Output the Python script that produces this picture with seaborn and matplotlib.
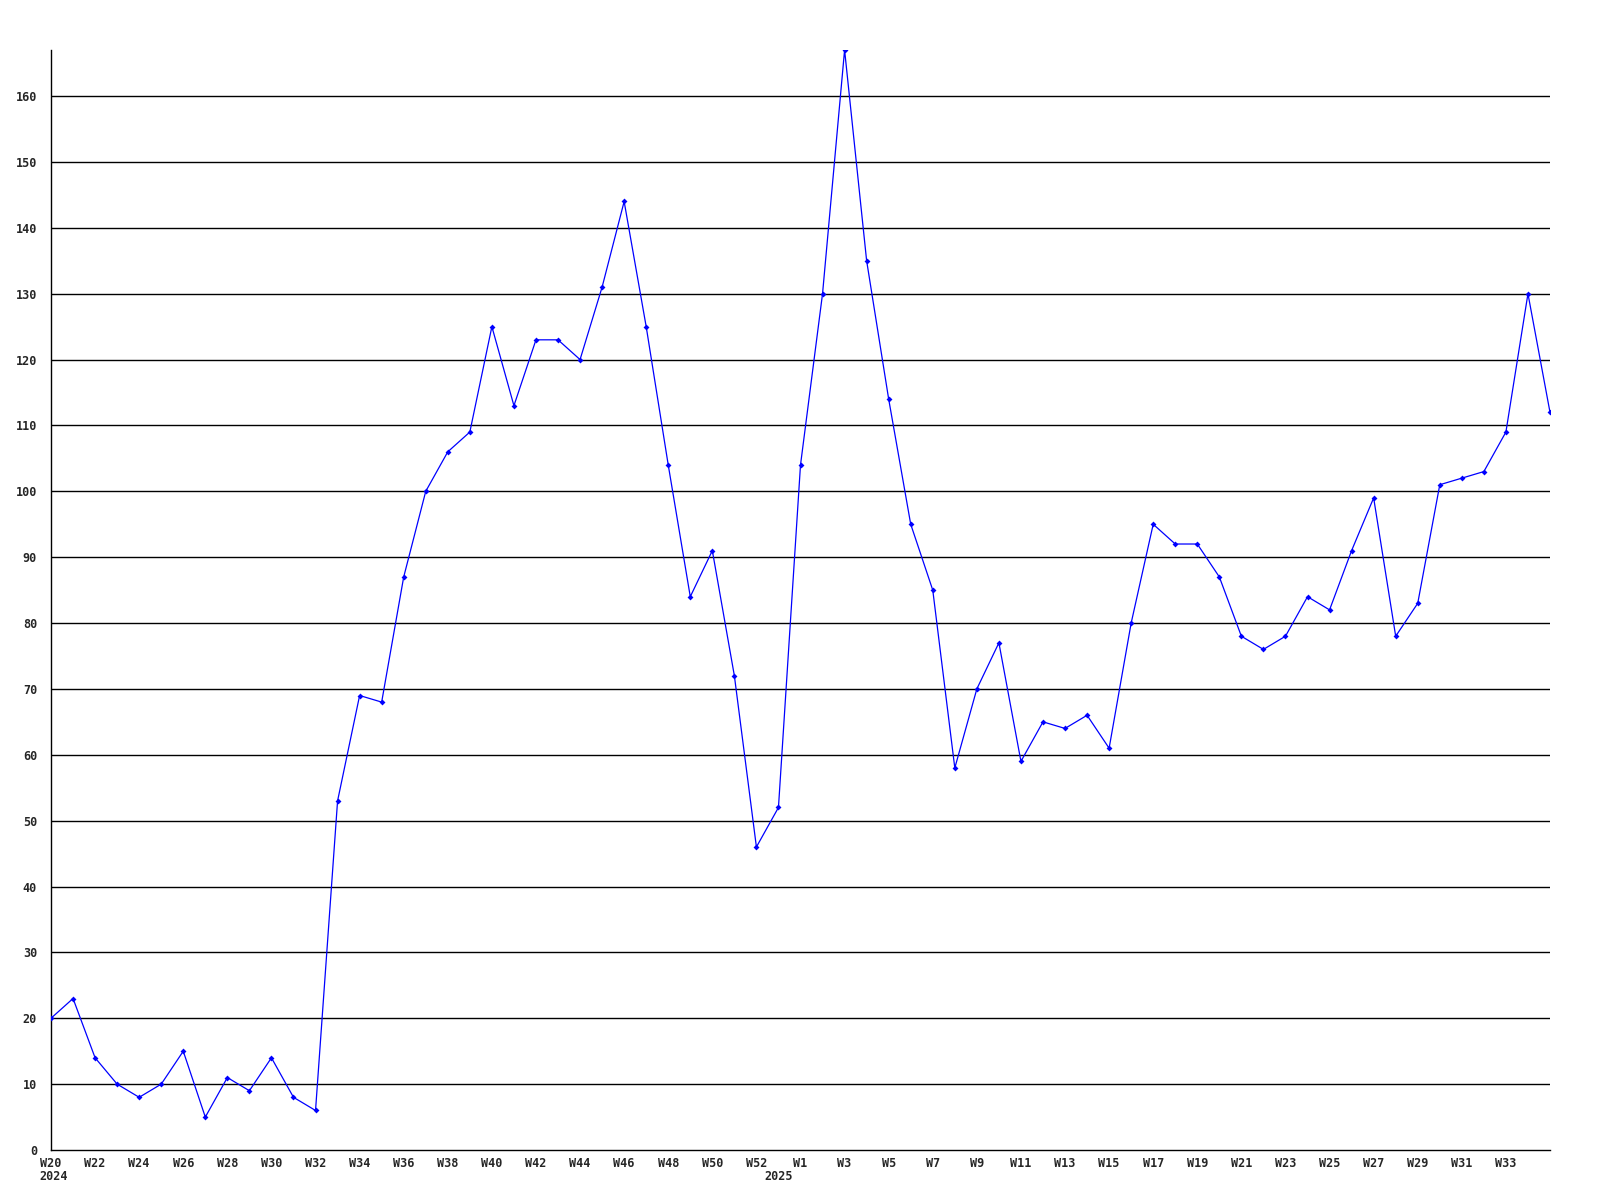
import numpy as np
import pandas as pd
import matplotlib
matplotlib.use("Agg")
import matplotlib.pyplot as plt
import matplotlib.transforms as mtransforms
import seaborn as sns

# semanas: W20-W53 de 2024 y W1-W35 de 2025
weeks_2024 = [f"W{w}" for w in range(20, 54)]
weeks_2025 = [f"W{w}" for w in range(1, 36)]
weeks = weeks_2024 + weeks_2025

values_2024 = [20, 23, 14, 10, 8, 10, 15, 5, 11, 9, 14, 8, 6, 53, 69, 68, 87,
               100, 106, 109, 125, 113, 123, 123, 120, 131, 144, 125, 104, 84,
               91, 72, 46, 52]
values_2025 = [104, 130, 167, 135, 114, 95, 85, 58, 70, 77, 59, 65, 64, 66, 61,
               80, 95, 92, 92, 87, 78, 76, 78, 84, 82, 91, 99, 78, 83, 101,
               102, 103, 109, 130, 112]
values = values_2024 + values_2025

tick_labels_2024 = [f"W{w}" for w in range(20, 53, 2)]
tick_labels_2025 = [f"W{w}" for w in range(1, 34, 2)]
year_labels = ["2024", "2025"]

df = pd.DataFrame({"idx": np.arange(len(values)), "week": weeks, "value": values})

sns.set_style("white")
plt.rcParams["font.family"] = ["DejaVu Sans Mono"]

fig = plt.figure(figsize=(16, 12), dpi=100)
ax = fig.add_axes([51 / 1600, 50 / 1200, 1499 / 1600, 1100 / 1200])

for v in range(10, 170, 10):
    ax.axhline(v, color="black", lw=1.0, zorder=1)

sns.lineplot(data=df, x="idx", y="value", ax=ax, color="#0000ff", lw=0.9,
             marker="D", markersize=3.0, markeredgewidth=0, zorder=3)

ax.set_xlim(0, len(values) - 1)
ax.set_ylim(0, 167)

pos = {w: i for i, w in enumerate(weeks_2024)}
xt = [pos[w] for w in tick_labels_2024] + [len(weeks_2024) + weeks_2025.index(w) for w in tick_labels_2025]
ax.set_xticks(xt)
ax.set_xticklabels(tick_labels_2024 + tick_labels_2025, fontsize=8.5, fontweight="bold")
ax.set_yticks(range(0, 170, 10))
ax.set_yticklabels([str(v) for v in range(0, 170, 10)], fontsize=8.5, fontweight="bold")
ax.tick_params(axis="both", length=0)
ax.tick_params(axis="x", pad=5)
ax.tick_params(axis="y", pad=10)

trans = mtransforms.blended_transform_factory(ax.transData, fig.transFigure)
ax.text(0.1, 1 - 1177 / 1200, year_labels[0], transform=trans, ha="center", va="center",
        fontsize=8.5, fontweight="bold")
ax.text(len(weeks_2024) - 1, 1 - 1177 / 1200, year_labels[1], transform=trans, ha="center",
        va="center", fontsize=8.5, fontweight="bold")

ax.set_xlabel("")
ax.set_ylabel("")
for s in ["top", "right"]:
    ax.spines[s].set_visible(False)
for s in ["left", "bottom"]:
    ax.spines[s].set_color("black")
    ax.spines[s].set_linewidth(1.0)

fig.savefig("out.png", dpi=100, facecolor="white")
